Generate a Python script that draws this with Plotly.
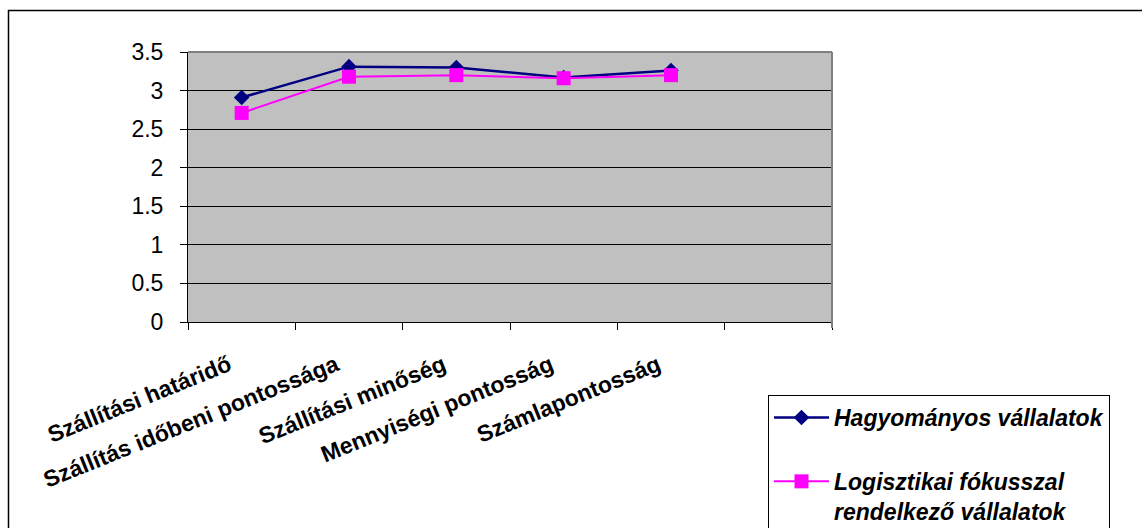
import plotly.graph_objects as go

# Survey scores per delivery criterion
categories = [
    "Szállítási határidő",
    "Szállítás időbeni pontossága",
    "Szállítási minőség",
    "Mennyiségi pontosság",
    "Számlapontosság",
]
axis_categories = categories + [" "]
traditional = [2.91, 3.31, 3.30, 3.17, 3.26]
logistics_focus = [2.71, 3.18, 3.20, 3.16, 3.20]
series_names = [
    "Hagyományos vállalatok",
    "Logisztikai fókusszal<br>rendelkező vállalatok",
]
y_ticks = [0, 0.5, 1, 1.5, 2, 2.5, 3, 3.5]
y_tick_text = ["0", "0.5", "1", "1.5", "2", "2.5", "3", "3.5"]

FONT = "Liberation Sans, Arial, sans-serif"
W, H = 1142, 528
L, R, T, B = 188, 832, 52, 322  # plot area in pixels


def px_x(p):
    return (p - L) / (R - L)


def px_y(p):
    return (B - p) / (B - T)


fig = go.Figure()
fig.add_trace(go.Scatter(
    x=categories, y=traditional, name=series_names[0], mode="lines+markers",
    line=dict(color="#000080", width=2.5),
    marker=dict(symbol="diamond", size=12, color="#000080"),
    legendgroup="a",
))
fig.add_trace(go.Scatter(
    x=categories, y=logistics_focus, name=series_names[1], mode="lines+markers",
    line=dict(color="#FF00FF", width=2),
    marker=dict(symbol="square", size=14, color="#FF00FF"),
    legendgroup="b",
))

fig.update_layout(
    width=W, height=H,
    margin=dict(l=L, r=W - R, t=T, b=H - B, autoexpand=False),
    paper_bgcolor="white",
    plot_bgcolor="#C0C0C0",
    font=dict(family=FONT, color="black"),
    showlegend=True,
    legend=dict(
        x=px_x(768), y=px_y(395), xanchor="left", yanchor="top",
        bgcolor="white", bordercolor="black", borderwidth=1,
        font=dict(family=FONT, size=23, color="black",
                  weight="bold", style="italic"),
        traceorder="grouped", tracegroupgap=31, valign="top",
        itemwidth=55,
    ),
    xaxis=dict(
        type="category", categoryorder="array", categoryarray=axis_categories,
        range=[-0.5, 5.5], showgrid=False, tickson="boundaries",
        ticks="outside", ticklen=7, tickcolor="black", tickwidth=1,
        showline=True, linecolor="black", linewidth=1,
        tickangle=-22, ticklabelstandoff=20, ticklabelshift=-13,
        tickfont=dict(family=FONT, size=23, color="black", weight="bold"),
    ),
    yaxis=dict(
        range=[0, 3.5], tickvals=y_ticks, ticktext=y_tick_text,
        showgrid=True, gridcolor="black", gridwidth=1, zeroline=False,
        ticks="outside", ticklen=7, tickcolor="black", tickwidth=1,
        showline=True, linecolor="black", linewidth=1,
        tickfont=dict(family=FONT, size=23, color="black"),
        ticklabelstandoff=12,
    ),
)

# gray frame on the top and right edges of the plot area
fig.add_shape(type="line", xref="paper", yref="paper", x0=0, x1=1, y0=1, y1=1,
              line=dict(color="#808080", width=2))
fig.add_shape(type="line", xref="paper", yref="paper", x0=1, x1=1,
              y0=px_y(328), y1=1, line=dict(color="#808080", width=2))
# outer chart border
fig.add_shape(type="rect", xref="paper", yref="paper",
              x0=px_x(8.5), x1=px_x(W + 10), y0=px_y(H + 10), y1=px_y(10.5),
              line=dict(color="black", width=1.5), layer="below")

fig.write_html("out.html")
